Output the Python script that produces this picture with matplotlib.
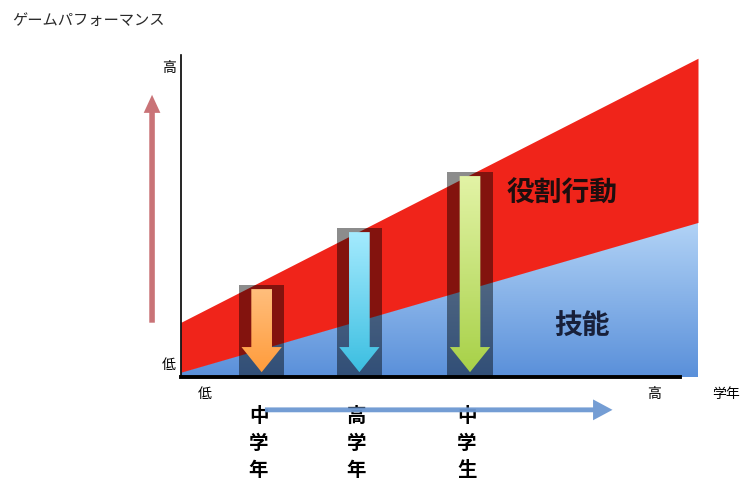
import numpy as np
import matplotlib
matplotlib.use("Agg")
import matplotlib.pyplot as plt
from matplotlib.patches import Polygon, FancyArrow, Rectangle
from matplotlib.colors import LinearSegmentedColormap

plt.rcParams['font.family'] = ['Noto Sans CJK JP', 'DejaVu Sans']

# band edges (grade 0..10 -> performance 0..10)
grade = [0.0, 10.0]
skill_top = [0.15, 4.8]
role_top = [1.7, 9.9]

# the three arrows: stage, grade position, reach
stages = ['中学年', '高学年', '中学生']
stage_x = [1.56, 3.45, 5.59]
stage_top = [2.86, 4.63, 6.37]
arrow_top = ['#ffc080', '#a8ecff', '#e4f4a8']
arrow_bot = ['#ff9a38', '#38bde0', '#a6d046']

fig = plt.figure(figsize=(7.45, 4.79), dpi=100)
ax = fig.add_axes([181 / 745, 102 / 479, 517 / 745, 322 / 479])
ax.set_xlim(0, 10)
ax.set_ylim(0, 10)

# blue skill area with vertical gradient
blue = Polygon([(grade[0], 0), (grade[0], skill_top[0]), (grade[1], skill_top[1]),
                (grade[1], 0)], closed=True, facecolor='none', edgecolor='none')
ax.add_patch(blue)
cmap = LinearSegmentedColormap.from_list('b', ['#5a90da', '#b2d3f6'])
grad = np.linspace(0, 1, 200).reshape(-1, 1)
im = ax.imshow(grad, extent=(0, 10, 0, skill_top[1]), origin='lower', cmap=cmap,
               aspect='auto', zorder=1)
im.set_clip_path(blue)

# red role-behaviour band
ax.fill_between(grade, skill_top, role_top, color='#f0241a', lw=0, zorder=1)

for i in range(3):
    w = 0.88
    ax.add_patch(Rectangle((stage_x[i] - w / 2, 0), w, stage_top[i],
                           facecolor='black', alpha=0.45, lw=0, zorder=2))
    arr = FancyArrow(stage_x[i], stage_top[i] - 0.13, 0, -(stage_top[i] - 0.13 - 0.15),
                     width=0.4, head_width=0.78, head_length=0.78,
                     length_includes_head=True, facecolor='none', edgecolor='none')
    ax.add_patch(arr)
    cm = LinearSegmentedColormap.from_list('a%d' % i, [arrow_bot[i], arrow_top[i]])
    im2 = ax.imshow(grad, extent=(stage_x[i] - 0.5, stage_x[i] + 0.5, 0, stage_top[i]),
                    origin='lower', cmap=cm, aspect='auto', zorder=3)
    im2.set_clip_path(arr)

ax.text(7.37, 5.68, '役割行動', fontsize=20, color='#1e0e0e', ha='center', va='center',
        fontweight='bold', zorder=4)
ax.text(7.75, 1.55, '技能', fontsize=20, color='#18203a', ha='center', va='center',
        fontweight='bold', zorder=4)

# axes
for s in ['top', 'right']:
    ax.spines[s].set_visible(False)
ax.spines['left'].set_linewidth(1.2)
ax.spines['bottom'].set_linewidth(2.8)
ax.spines['bottom'].set_bounds(0, 9.65)
ax.spines['bottom'].set_zorder(5)
ax.set_xticks([])
ax.set_yticks([])

ax.text(-0.1, 9.6, '高', fontsize=10, ha='right', va='center')
ax.text(-0.1, 0.37, '低', fontsize=10, ha='right', va='center')
ax.text(0.46, -0.52, '低', fontsize=10, ha='center', va='center', clip_on=False)
ax.text(9.15, -0.52, '高', fontsize=10, ha='center', va='center', clip_on=False)
ax.text(10.55, -0.52, '学年', fontsize=10, ha='center', va='center', clip_on=False)

# vertical stage labels
for i, lab in enumerate(stages):
    for j, ch in enumerate(lab):
        ax.text(stage_x[i] - 0.06, -1.24 - j * 0.83, ch, fontsize=14, fontweight='bold',
                ha='center', va='center', clip_on=False, zorder=4)

# grade arrow below and performance arrow on the left
ax.annotate('', xy=(8.4, -1.02), xytext=(1.57, -1.02), annotation_clip=False,
            arrowprops=dict(arrowstyle='simple,head_length=1.4,head_width=1.5,tail_width=0.35',
                            color='#6c98d2', alpha=0.95, lw=0), zorder=6)
ax.annotate('', xy=(-0.56, 8.85), xytext=(-0.56, 1.6), annotation_clip=False,
            arrowprops=dict(arrowstyle='simple,head_length=1.3,head_width=1.2,tail_width=0.4',
                            color='#c46468', alpha=0.9, lw=0), zorder=6)

fig.text(12 / 745, 1 - 20 / 479, 'ゲームパフォーマンス', fontsize=11, color='#2a2a2a',
         ha='left', va='center')

fig.savefig('out.png', dpi=100)
